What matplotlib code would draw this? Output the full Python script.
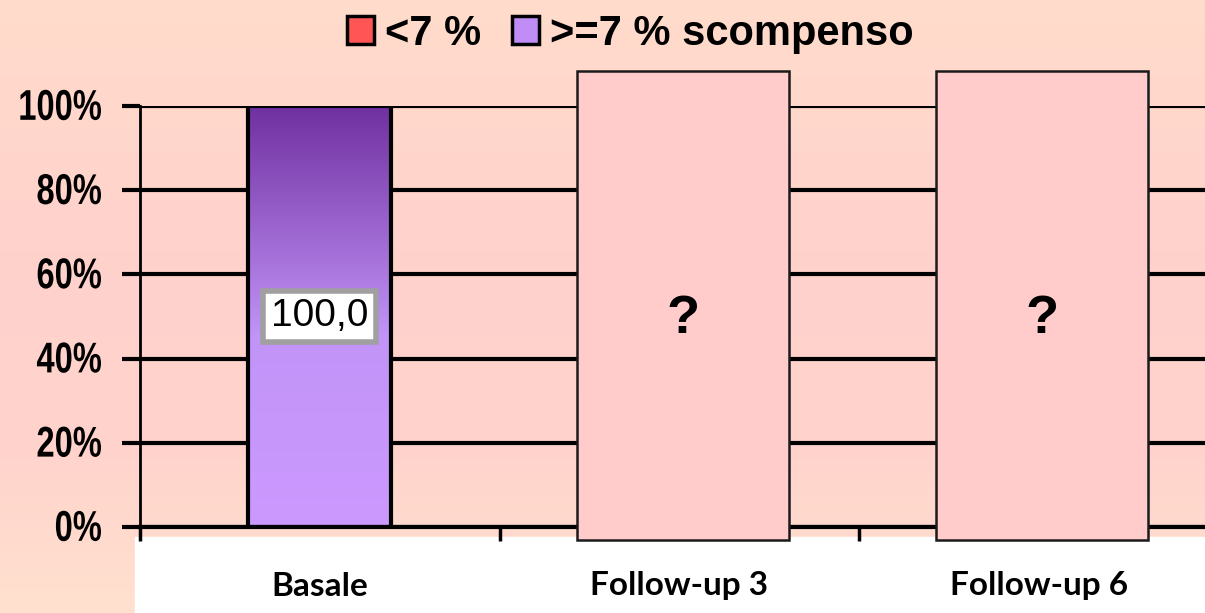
import numpy as np
import matplotlib.pyplot as plt
from matplotlib.patches import Rectangle, Patch, PathPatch
from matplotlib.colors import LinearSegmentedColormap
from matplotlib.textpath import TextPath
from matplotlib.font_manager import FontProperties
from matplotlib.transforms import Affine2D, IdentityTransform

categories = ['Basale', 'Follow-up 3', 'Follow-up 6']
# share of patients with HbA1c >= 7 % (None = not yet known)
scompenso = [100.0, None, None]
compensati = [0.0, None, None]
yticks = [0, 20, 40, 60, 80, 100]
legend_labels = ['<7 %', '>=7 % scompenso']

W, H = 1205, 613
fig = plt.figure(figsize=(W / 100, H / 100), dpi=100)

# slide background: peach -> pink -> peach
bg = fig.add_axes([0, 0, 1, 1], zorder=0)
bg.set_axis_off()
grad = LinearSegmentedColormap.from_list(
    'bg', [(0.0, '#ffdccb'), (0.45, '#ffd1cc'), (0.75, '#ffd4cc'), (1.0, '#ffe1cf')])
bg.imshow(np.linspace(0, 1, 256)[:, None], aspect='auto', cmap=grad,
          extent=[0, 1, 0, 1], origin='upper')
bg.set_xlim(0, 1)
bg.set_ylim(0, 1)
# white strip behind category names
bg.add_patch(Rectangle((135 / W, 0), 1, 76 / H, color='white', zorder=2))

cat_font = ['Lato', 'DejaVu Sans']
sans = ['Liberation Sans', 'DejaVu Sans']

# plot area: 0% at y=527px, 100% at y=106px, left spine at x=140px
x0, x1 = 140, 1218.5
ax = fig.add_axes([x0 / W, (H - 527) / H, (x1 - x0) / W, 421 / H], zorder=2)
ax.patch.set_alpha(0)
ax.set_xlim(-0.5, len(categories) - 0.5)
ax.set_ylim(0, 100)

for s in ['top', 'right']:
    ax.spines[s].set_visible(False)
ax.spines['left'].set_linewidth(2)
ax.spines['bottom'].set_linewidth(3)
ax.spines['bottom'].set_zorder(4)

ax.set_yticks(yticks)
ax.set_yticklabels([])
ax.tick_params(axis='y', length=13, width=3)
ax.yaxis.grid(True, color='black', linewidth=3)
ax.set_axisbelow(True)

ax.set_xticks(np.arange(len(categories) + 1) - 0.5, minor=True)
ax.set_xticks([])
ax.tick_params(axis='x', which='minor', length=10, width=2.5, direction='out')

# narrow bold percent labels, squeezed horizontally
tick_prop = FontProperties(family='Liberation Sans', weight='bold')
for v in yticks:
    px, py = ax.transData.transform((-0.5, v))
    tp = TextPath((0, 0), f'{v}%', size=43, prop=tick_prop)
    ext = tp.get_extents()
    tr = (Affine2D().translate(-ext.x1, -(ext.y0 + ext.y1) / 2)
          .scale(0.76, 1).translate(px - 39, py + 1))
    fig.patches.append(PathPatch(tr.transform_path(tp), facecolor='black',
                                 edgecolor='none', transform=IdentityTransform(),
                                 figure=fig))

bw = 0.397
x = np.arange(len(categories))

# purple gradient fill for the ">= 7 %" bar
purple = LinearSegmentedColormap.from_list(
    'purple', [(0.0, '#cc99ff'), (0.45, '#c294f8'), (1.0, '#7030a0')])
for i, v in enumerate(scompenso):
    if v is None:
        continue
    bar = ax.bar(i, v, width=bw, color='none', edgecolor='black',
                 linewidth=3, zorder=3)[0]
    img = ax.imshow(np.linspace(0, 1, 256)[:, None], aspect='auto', cmap=purple,
                    extent=[i - bw / 2, i + bw / 2, 0, v], origin='lower',
                    zorder=2.5)
    img.set_clip_path(bar)
    ax.text(i, v / 2, f'{v:.1f}'.replace('.', ','), ha='center', va='center',
            fontsize=28, family=sans, zorder=5,
            bbox=dict(boxstyle='square,pad=0.2', facecolor='white',
                      edgecolor='#a0a0a0', linewidth=4))

# unknown follow-up results hidden behind cards
for i, v in enumerate(scompenso):
    if v is not None:
        continue
    ax.bar(i + 0.01, 111.5, bottom=-3.1, width=0.59, color='#ffcbcb',
           edgecolor='#1a1a1a', linewidth=1.8, zorder=6, clip_on=False)
    ax.text(i + 0.01, 49.5, '?', ha='center', va='center', fontsize=39,
            fontweight='bold', family=sans, zorder=7)

ax.set_ylim(0, 100)

# category names in the white strip
for i, c in enumerate(categories):
    fig.text((x0 + (i + 0.5) * (x1 - x0) / len(categories)) / W, 27 / H, c,
             ha='center', va='center', fontsize=24, fontweight='bold',
             family=cat_font, zorder=8)

handles = [Patch(facecolor='#ff5555', edgecolor='black', linewidth=2.5),
           Patch(facecolor='#c08cf5', edgecolor='black', linewidth=2.5)]
leg = fig.legend(handles, legend_labels, loc='center', ncol=2,
                 bbox_to_anchor=(630 / W, 1 - 34 / H), frameon=False,
                 handlelength=0.66, handleheight=0.66, handletextpad=0.25,
                 columnspacing=0.75,
                 prop=dict(family=sans, weight='bold', size=30))

fig.savefig('out.png', dpi=100)
